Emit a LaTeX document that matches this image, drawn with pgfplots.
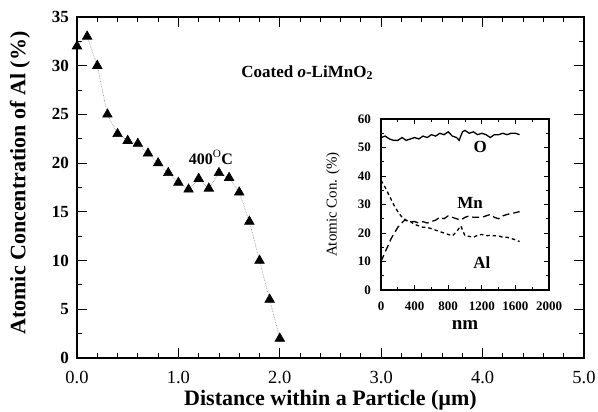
\documentclass[border=0pt]{standalone}
\usepackage{fontspec}
\setmainfont{Liberation Serif}
\usepackage{pgfplots}
\pgfplotsset{compat=1.18}

\newcommand{\fs}[1]{\fontsize{#1}{#1}\selectfont}

\begin{document}
\begin{tikzpicture}
\begin{axis}[
    at={(0pt,0pt)}, anchor=south west,
    scale only axis, width=507pt, height=341pt,
    xmin=0, xmax=5, ymin=0, ymax=35,
    xtick={0,1,2,3,4,5},
    xticklabels={0.0,1.0,2.0,3.0,4.0,5.0},
    minor x tick num=4,
    ytick={0,5,...,35},
    minor y tick num=1,
    tick align=inside,
    major tick length=10pt, minor tick length=5pt,
    every tick/.style={black, line width=0.9pt},
    axis line style={line width=1.8pt},
    /pgf/number format/assume math mode=true,
    xticklabel style={font=\fs{18.5}, anchor=north, inner sep=0pt, yshift=-13pt},
    yticklabel style={font=\bfseries\fs{17}, anchor=east, inner sep=0pt, xshift=-8pt},
    xlabel={\bfseries Distance within a Particle (\textmu m)},
    xlabel style={font=\fs{22}, at={(axis description cs:0.5,0)}, anchor=center, yshift=-42pt},
    ylabel={\bfseries Atomic Concentration of Al (\%)},
    ylabel style={font=\fs{22}, at={(axis description cs:-0.1124,0.513)}, anchor=center},
    clip=false,
]
\addplot[densely dotted, gray, line width=0.6pt, mark=triangle*,
    mark options={solid, black}, mark size=5.5pt] coordinates {
(0.0,32) (0.1,33) (0.2,30) (0.3,25) (0.4,23) (0.5,22.3) (0.6,22)
(0.7,21) (0.8,20) (0.9,19) (1.0,18) (1.1,17.3) (1.2,18.4) (1.3,17.4)
(1.4,19) (1.5,18.5) (1.6,17) (1.7,14) (1.8,10) (1.9,6) (2.0,2)
};
\node[font=\bfseries\fs{17}] at (axis cs:2.27,29.3) {Coated \textit{o}-LiMnO$_{\mathbf 2}$};
\node[font=\bfseries\fs{16}] at (axis cs:1.32,20.6) {400$^{\mathrm O}$C};
\end{axis}

\begin{axis}[
    at={(304pt,68pt)}, anchor=south west,
    scale only axis, width=168pt, height=171pt,
    xmin=0, xmax=2000, ymin=0, ymax=60,
    xtick={0,400,...,2000}, minor x tick num=1,
    ytick={0,10,...,60}, minor y tick num=1,
    tick align=inside,
    major tick length=5pt, minor tick length=3pt,
    every tick/.style={black, line width=0.7pt},
    axis line style={line width=1.3pt},
    /pgf/number format/assume math mode=true,
    /pgf/number format/1000 sep={},
    xticklabel style={font=\bfseries\fs{13}, anchor=north, inner sep=0pt, yshift=-12pt},
    yticklabel style={font=\bfseries\fs{13}, anchor=east, inner sep=0pt, xshift=-10pt},
    xlabel={\bfseries nm},
    xlabel style={font=\fs{19}, at={(axis description cs:0.5,0)}, anchor=center, yshift=-35pt},
    ylabel={Atomic Con. (\%)},
    ylabel style={font=\fs{15}, at={(axis description cs:-0.2857,0.5)}, anchor=center},
    clip=false,
]
\addplot[black, line width=1.3pt] coordinates {
(0,53.5) (50,54) (100,53) (150,52.5) (200,52.5) (250,53.5) (300,52.5)
(350,53) (400,53.5) (450,53) (500,54) (550,53.5) (600,54.5) (650,54)
(700,55) (750,54.5) (800,55.5) (850,54) (900,53.5) (930,52.5) (970,55.5)
(1000,56) (1050,55) (1100,55.5) (1150,54.5) (1200,55) (1250,54.5)
(1300,53.5) (1350,54.5) (1400,54.5) (1450,55) (1500,54.5) (1550,55)
(1600,55) (1650,54.5)
};
\addplot[black, line width=1.3pt, dash pattern=on 7pt off 4pt] coordinates {
(0,10) (60,14) (120,18) (200,22) (280,24.5) (350,24) (400,24) (450,23.5)
(500,24) (550,23.5) (600,24) (650,24.5) (700,25.5) (750,25) (800,26)
(850,25.5) (900,25) (950,24.5) (1000,25.5) (1050,26) (1100,25.5)
(1200,25.5) (1250,26) (1300,26.5) (1350,25.5) (1400,25) (1450,26)
(1500,26.5) (1580,27) (1650,27.5)
};
\addplot[black, line width=1.3pt, dash pattern=on 3.5pt off 3pt] coordinates {
(0,38.5) (50,36) (100,33) (150,30) (200,27.5) (250,25.5) (300,24.5)
(350,24) (400,23) (450,22.5) (500,22) (550,22) (600,21.5) (650,21)
(700,20.5) (750,20) (800,19.5) (850,19) (900,20.5) (950,22.5) (1000,19)
(1050,18.8) (1100,18.5) (1150,19.2) (1200,19.5) (1250,19) (1300,19.2)
(1350,19) (1400,19) (1450,18.5) (1500,18.5) (1580,17.8) (1650,17)
};
\node[font=\bfseries\fs{17}] at (axis cs:1180,50.2) {O};
\node[font=\bfseries\fs{17}] at (axis cs:1060,30.5) {Mn};
\node[font=\bfseries\fs{17}] at (axis cs:1200,9.5) {Al};
\end{axis}
\pgfresetboundingbox
\path[use as bounding box] (-77pt,-54pt) rectangle (521pt,358pt);
\end{tikzpicture}
\end{document}
